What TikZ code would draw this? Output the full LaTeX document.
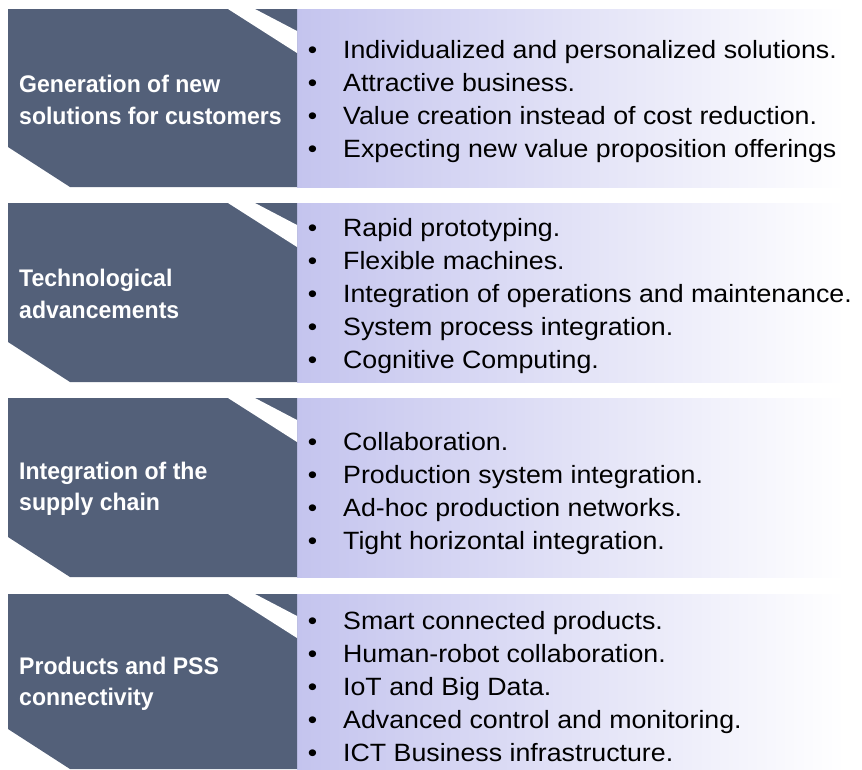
\documentclass[tikz,border=0pt]{standalone}
\usepackage{fontspec}
\setmainfont{Liberation Sans}
\newfontfamily\itemfam[FakeStretch=1.07]{Liberation Sans}
\newfontfamily\labfam[FakeStretch=0.96]{Liberation Sans}
\definecolor{slate}{RGB}{83,96,121}
\definecolor{lav}{RGB}{196,196,238}
\tikzset{
  darkpanel/.style={fill=slate, draw=none},
  cutstrip/.style={fill=white, draw=none},
  listpanel/.style={left color=lav, right color=white, draw=none},
  lab/.style={anchor=west, inner sep=0pt, align=left, text=white,
    font=\labfam\bfseries\fontsize{24}{31.5}\selectfont},
  item/.style={anchor=base west, inner sep=0pt, text=black,
    font=\itemfam\fontsize{25}{33}\selectfont},
}
\newcommand{\bul}{\llap{\textbullet\hspace{26pt}}}
\newcommand{\rowshape}[3]{%
  % #1 top, #2 bottom, #3 name
  \path[listpanel] (297,#1) rectangle (845,#2);
  \path[darkpanel] (8,#1) -- (297,#1) -- (297,#2) -- (70,#2) -- (8,#2-40) -- cycle;
  \path[cutstrip] (228,#1) -- (255,#1) -- (297,#1+22) -- (297,#1+44) -- cycle;
  \coordinate (#3) at (8,{(#1+#2)/2});
}
\begin{document}
\begin{tikzpicture}[x=1pt,y=-1pt]
\useasboundingbox (0,0) rectangle (862,769);
\rowshape{9}{187}{r1}
\rowshape{203}{382}{r2}
\rowshape{398}{577}{r3}
\rowshape{594}{769}{r4}

\node[lab] (l1) at (19,100) {Generation of new\\solutions for customers};
\node[lab] (l2) at (19,294) {Technological\\advancements};
\node[lab] (l3) at (19,489) {Integration of the\\supply chain};
\node[lab] (l4) at (19,684) {Products and PSS\\connectivity};

\node[item] (a1) at (343,58) {\bul Individualized and personalized solutions.};
\node[item] (a2) at (343,91) {\bul Attractive business.};
\node[item] (a3) at (343,124) {\bul Value creation instead of cost reduction.};
\node[item] (a4) at (343,157) {\bul Expecting new value proposition offerings};

\node[item] (b1) at (343,236) {\bul Rapid prototyping.};
\node[item] (b2) at (343,269) {\bul Flexible machines.};
\node[item] (b3) at (343,302) {\bul Integration of operations and maintenance.};
\node[item] (b4) at (343,335) {\bul System process integration.};
\node[item] (b5) at (343,368) {\bul Cognitive Computing.};

\node[item] (c1) at (343,450) {\bul Collaboration.};
\node[item] (c2) at (343,483) {\bul Production system integration.};
\node[item] (c3) at (343,516) {\bul Ad-hoc production networks.};
\node[item] (c4) at (343,549) {\bul Tight horizontal integration.};

\node[item] (d1) at (343,629) {\bul Smart connected products.};
\node[item] (d2) at (343,662) {\bul Human-robot collaboration.};
\node[item] (d3) at (343,695) {\bul IoT and Big Data.};
\node[item] (d4) at (343,728) {\bul Advanced control and monitoring.};
\node[item] (d5) at (343,761) {\bul ICT Business infrastructure.};
\end{tikzpicture}
\end{document}
